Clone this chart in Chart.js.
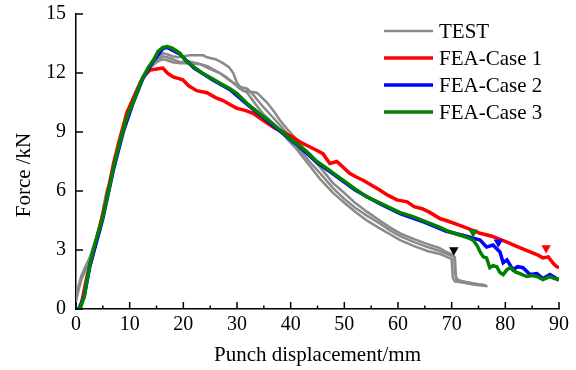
<!DOCTYPE html>
<html>
<head>
<meta charset="utf-8">
<script src="https://cdn.jsdelivr.net/npm/chart.js@4.4.1/dist/chart.umd.min.js"></script>
<style>
html, body { margin: 0; padding: 0; background: #fff; }
</style>
</head>
<body>
<canvas id="chart" width="576" height="370"></canvas>
<script>
// x = punch displacement (mm), y = force (kN)
const test1 = [[0,0.6],[0.5,1.2],[1,1.7],[2,2.3],[2.6,2.65],[3.5,3.4],[4.5,4.2],[5.2,5.3],[5.7,6.0],[6.2,6.4],[7,7.3],[8,8.5],[9,9.5],[10,10.3],[11,11.0],[12,11.6],[13,12.0],[14,12.4],[15,12.75],[16.2,13.0],
  [17,12.95],[18,12.85],[19,12.8],[20,12.85],[21.2,12.9],[23.7,12.9],[24.4,12.8],[26,12.7],[27.4,12.5],[28.5,12.3],[29.3,12.0],[30,11.5],[31.1,11.1],[32.5,11.05],[33.7,11.0],[35.6,10.5],[37,10.0],[38,9.6],[39.5,9.1],[41.2,8.6],[43,7.95],[45.5,7.2],[47.9,6.4],[50,5.9],[52,5.4],[54.2,4.95],[56.6,4.5],[58.5,4.15],[60.4,3.85],[63,3.55],[65,3.35],[67.8,3.1],[69,2.9],[70.3,2.75],[70.6,2.6],[70.8,1.6],[71.3,1.45],[73,1.35],[75,1.25],[76.5,1.2]];
const test2 = [[0,0.5],[0.5,1.1],[1,1.6],[2,2.2],[2.6,2.6],[3.5,3.3],[4.5,4.1],[5.2,5.2],[5.7,5.9],[6.2,6.3],[7,7.2],[8,8.4],[9,9.4],[10,10.2],[11,10.9],[12,11.5],[13,11.95],[14,12.35],[15,12.65],[16.2,12.85],
  [17,12.8],[18,12.7],[19.4,12.55],[21,12.6],[22.5,12.5],[24.5,12.35],[26.8,12.0],[28,11.8],[29.3,11.5],[30.5,11.3],[31.9,11.2],[33,10.9],[34.8,10.3],[36.5,9.8],[38,9.35],[40,8.7],[41.7,8.1],[43.5,7.5],[45.5,6.9],[47.9,6.15],[50,5.6],[52,5.15],[54.2,4.75],[56.6,4.35],[58.5,4.0],[60.4,3.7],[63,3.4],[65.5,3.15],[67.8,2.95],[69.5,2.75],[70.5,2.65],[70.6,1.9],[70.9,1.5],[72,1.4],[74,1.3],[76,1.22]];
const test3 = [[0,0.4],[0.5,1.0],[1,1.5],[2,2.1],[2.6,2.5],[3.5,3.2],[4.5,4.0],[5.2,5.0],[5.7,5.7],[6.2,6.2],[7,7.1],[8,8.3],[9,9.3],[10,10.1],[11,10.8],[12,11.45],[13,11.9],[14,12.3],[15,12.55],[16.2,12.7],
  [17,12.65],[18,12.55],[19.4,12.5],[21,12.5],[23.1,12.45],[25,12.2],[26.8,12.0],[28,11.75],[29.3,11.5],[30.5,11.2],[31.9,11.0],[33.5,10.4],[34.8,9.95],[36.5,9.5],[38,9.1],[39.5,8.6],[41.2,8.1],[43.5,7.3],[45.5,6.6],[47.9,5.9],[50,5.4],[52,4.95],[54.2,4.5],[56.6,4.1],[58.5,3.8],[60.4,3.5],[63,3.2],[65.5,2.95],[67.8,2.8],[69.5,2.6],[70,2.55],[70.2,1.6],[70.6,1.4],[72,1.35],[74,1.25],[76.7,1.15]];
const fea1 = [[0.8,0],[2,1.6],[3,2.6],[4.5,4.3],[5.5,5.4],[7,7.4],[8,8.5],[9.5,10.0],[10.5,10.6],[11.5,11.2],[12.5,11.8],[13.8,12.15],[15,12.2],[16.2,12.25],[17,12.0],[18.1,11.8],[19.9,11.65],[21,11.35],[22.5,11.1],[24.4,11.0],[26,10.75],[27.4,10.6],[29,10.35],[30,10.2],[31.5,10.1],[33,9.95],[35.6,9.45],[37,9.2],[38.6,9.0],[40,8.8],[41.7,8.5],[43.5,8.25],[45,8.05],[46,7.9],[47.3,7.4],[48.6,7.5],[50,7.15],[51,6.9],[52.3,6.7],[53.5,6.55],[55,6.3],[56.6,6.05],[58,5.8],[59.8,5.55],[61.7,5.45],[63,5.2],[64.5,5.1],[66,4.9],[67.8,4.6],[69.5,4.45],[71,4.3],[73,4.1],[75.3,3.85],[77.5,3.7],[80.3,3.4],[82,3.2],[84.6,2.9],[86,2.75],[87,2.6],[88,2.65],[89,2.3],[89.6,2.15],[90,2.1]];
const fea2 = [[0.5,0],[1.5,0.6],[2.6,2.2],[5,4.6],[6.9,7.0],[8.8,9.0],[10.6,10.45],[12.5,11.75],[14.4,12.6],[16.2,13.25],[17,13.3],[19.4,12.95],[22,12.25],[25.5,11.65],[28.7,11.15],[31.9,10.4],[34.8,9.75],[38,9.05],[41.2,8.35],[44.9,7.45],[48,6.85],[52,6.05],[56.6,5.35],[60.4,4.85],[65,4.4],[69,3.95],[72.8,3.7],[74,3.6],[75.3,3.5],[76.5,3.15],[77.7,3.25],[79,2.9],[79.6,2.35],[80.3,2.5],[81.4,2.0],[82.3,2.15],[83.3,2.1],[84.6,1.75],[85.9,1.8],[87,1.55],[88.3,1.75],[89.8,1.5],[90,1.45]];
const fea3 = [[0.5,0],[1,0.2],[1.5,0.6],[2.6,2.3],[3.5,3.3],[5,4.7],[6,5.9],[6.9,7.1],[8,8.3],[8.8,9.1],[9.7,9.9],[10.6,10.5],[11.5,11.1],[12.5,11.8],[13.5,12.3],[14.4,12.65],[15.3,13.1],[16.2,13.3],[17,13.35],[18,13.25],[19.4,13.0],[20.5,12.6],[22,12.3],[23.5,12.0],[25.5,11.7],[27,11.45],[28.7,11.2],[30,10.95],[31.9,10.45],[33,10.2],[34.8,9.8],[36.5,9.45],[38,9.1],[39.5,8.75],[41.2,8.4],[43,8.0],[44.9,7.5],[46.5,7.2],[48,6.9],[50,6.5],[52,6.1],[54.2,5.7],[56.6,5.4],[58.5,5.15],[60.4,4.9],[62.8,4.7],[65,4.45],[67.8,4.15],[69,4.0],[71,3.8],[72.8,3.65],[74,3.5],[74.8,3.2],[75.3,2.9],[75.9,2.65],[76.5,2.6],[77.1,2.1],[77.7,2.2],[78.4,2.15],[79,1.85],[79.6,1.75],[80.3,2.0],[80.9,2.1],[81.8,1.9],[82.7,1.8],[84,1.65],[85,1.7],[85.9,1.65],[87,1.5],[88.3,1.65],[89.2,1.55],[90,1.5]];
// fracture markers (down triangles)
const markTest = [[70.4,3.0]];
const markFea1 = [[87.6,3.1]];
const markFea2 = [[78.7,3.4]];
const markFea3 = [[74,3.9]];

const xTicks = [0,10,20,30,40,50,60,70,80,90];
const yTicks = [0,3,6,9,12,15];
const yTitle = 'Force /kN';

const serif = '"Liberation Serif", "Times New Roman", serif';

function pts(arr) {
  return arr.map(p => ({ x: p[0], y: p[1] }));
}

function curve(label, arr, color, width, order, legend) {
  return {
    label: label,
    data: pts(arr),
    showLine: true,
    borderColor: color,
    backgroundColor: color,
    borderWidth: width,
    pointRadius: 0,
    tension: 0,
    order: order,
    inLegend: legend
  };
}

function marker(arr, color) {
  return {
    label: '',
    data: pts(arr),
    showLine: false,
    pointStyle: 'triangle',
    rotation: 180,
    pointRadius: 5.5,
    backgroundColor: color,
    borderColor: color,
    borderWidth: 0,
    order: -1,
    inLegend: false
  };
}

// inward tick marks, minor ticks on x between majors
const innerTicks = {
  id: 'innerTicks',
  afterDraw(chart) {
    const ctx = chart.ctx;
    const xs = chart.scales.x, ys = chart.scales.y;
    const bottom = chart.chartArea.bottom, left = chart.chartArea.left;
    ctx.save();
    ctx.strokeStyle = '#000';
    ctx.lineWidth = 1.5;
    ctx.beginPath();
    xTicks.forEach((v, i) => {
      const px = xs.getPixelForValue(v);
      ctx.moveTo(px, bottom);
      ctx.lineTo(px, bottom - 7);
      if (i < xTicks.length - 1) {
        const mx = xs.getPixelForValue((v + xTicks[i + 1]) / 2);
        ctx.moveTo(mx, bottom);
        ctx.lineTo(mx, bottom - 3.5);
      }
    });
    yTicks.forEach(v => {
      const py = ys.getPixelForValue(v);
      ctx.moveTo(left, py);
      ctx.lineTo(left + 7, py);
    });
    ctx.stroke();

    // y title sits a bit below the middle of the axis in the figure
    ctx.fillStyle = '#000';
    ctx.font = '21px ' + serif;
    ctx.textAlign = 'center';
    ctx.textBaseline = 'middle';
    ctx.translate(24, 175);
    ctx.rotate(-Math.PI / 2);
    ctx.fillText(yTitle, 0, 0);
    ctx.restore();
  }
};

const sideLegend = {
  id: 'sideLegend',
  afterDraw(chart) {
    const ctx = chart.ctx;
    const area = chart.chartArea;
    const items = chart.data.datasets.filter(d => d.inLegend);
    items.sort((a, b) => a.legendIndex - b.legendIndex);
    ctx.save();
    ctx.font = '21px ' + serif;
    ctx.textBaseline = 'middle';
    ctx.fillStyle = '#000';
    items.forEach((d, i) => {
      const y = area.top + 17 + i * 27;
      const x0 = area.right - 175;
      ctx.strokeStyle = d.borderColor;
      ctx.lineWidth = d.borderWidth;
      ctx.beginPath();
      ctx.moveTo(x0, y);
      ctx.lineTo(x0 + 49, y);
      ctx.stroke();
      ctx.fillText(d.label, x0 + 55, y + 1);
    });
    ctx.restore();
  }
};

const grey = '#8a8a8a';
const ds = [
  curve('TEST', test1, grey, 2.5, 4, true),
  curve('TEST', test2, grey, 2.5, 4, false),
  curve('TEST', test3, grey, 2.5, 4, false),
  curve('FEA-Case 1', fea1, '#ff0000', 3.5, 3, true),
  curve('FEA-Case 2', fea2, '#0000ff', 3.5, 2, true),
  curve('FEA-Case 3', fea3, '#008000', 3.5, 1, true),
  marker(markTest, '#000000'),
  marker(markFea1, '#ff0000'),
  marker(markFea2, '#0000ff'),
  marker(markFea3, '#008000')
];
ds[0].legendIndex = 0; ds[3].legendIndex = 1; ds[4].legendIndex = 2; ds[5].legendIndex = 3;

new Chart(document.getElementById('chart'), {
  type: 'scatter',
  data: { datasets: ds },
  options: {
    responsive: false,
    animation: false,
    layout: { padding: { left: 40, top: 14, right: 17, bottom: 0 } },
    plugins: {
      legend: { display: false },
      tooltip: { enabled: false }
    },
    scales: {
      x: {
        type: 'linear',
        min: 0,
        max: 90,
        afterFit: s => { s.height = 61; s.paddingLeft = 0; s.paddingRight = 0; },
        afterBuildTicks: s => { s.ticks = xTicks.map(v => ({ value: v })); },
        ticks: { color: '#000', font: { family: serif, size: 20 }, padding: 4, maxRotation: 0 },
        grid: { display: true, drawOnChartArea: false, drawTicks: false },
        border: { color: '#000', width: 1.5 },
        title: { display: true, text: 'Punch displacement/mm', color: '#000', font: { family: serif, size: 21 }, padding: { top: 0, bottom: 2 } }
      },
      y: {
        min: 0,
        max: 15,
        afterFit: s => { s.width = 36; s.paddingTop = 0; s.paddingBottom = 0; },
        afterBuildTicks: s => { s.ticks = yTicks.map(v => ({ value: v })); },
        ticks: { color: '#000', font: { family: serif, size: 20 }, padding: 10 },
        grid: { display: true, drawOnChartArea: false, drawTicks: false },
        border: { color: '#000', width: 1.5 }
      }
    }
  },
  plugins: [innerTicks, sideLegend]
});
</script>
</body>
</html>
